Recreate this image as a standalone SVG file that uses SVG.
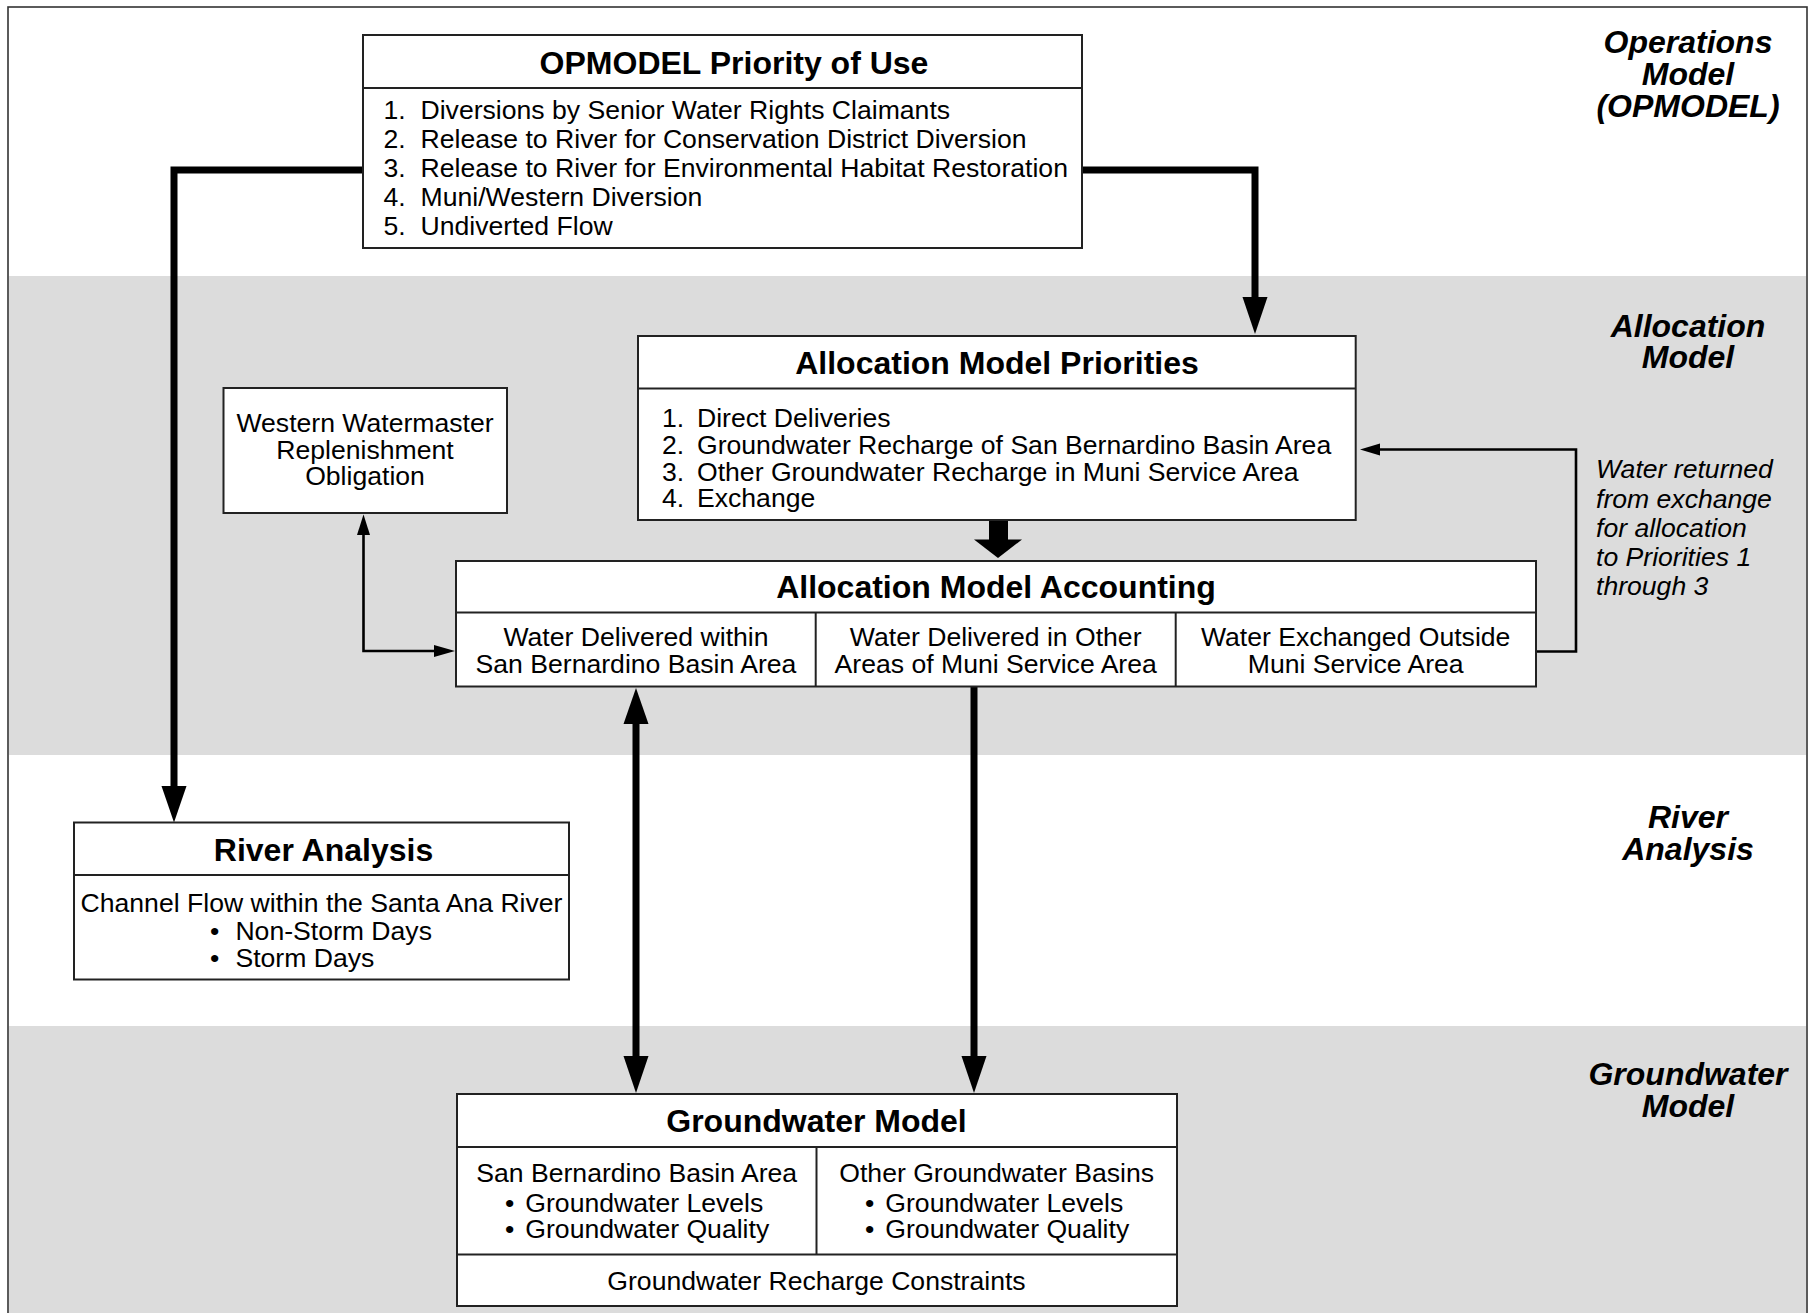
<svg xmlns="http://www.w3.org/2000/svg" width="1809" height="1313" viewBox="0 0 1809 1313">
<style>
text{font-family:"Liberation Sans",Arial,Helvetica,sans-serif;fill:#000}
.t{font-size:32px;font-weight:bold;text-anchor:middle}
.b{font-size:26.6px}
.c{font-size:26.6px;text-anchor:middle}
.lab{font-size:32px;font-weight:bold;font-style:italic;text-anchor:middle}
.it{font-size:26.6px;font-style:italic}
.box{fill:#fff;stroke:#222;stroke-width:2}
.div{stroke:#222;stroke-width:2;fill:none}
.thick{stroke:#000;stroke-width:7;fill:none}
.thin{stroke:#000;stroke-width:2.6;fill:none}
.band{fill:#dcdcdc}
</style>
<g id="background">
<rect x="0" y="0" width="1809" height="1313" fill="#fff"/>
<rect class="band" x="9" y="276" width="1797" height="479"/>
<rect class="band" x="9" y="1026" width="1797" height="300"/>
<rect x="8" y="7" width="1799" height="1320" fill="none" stroke="#333" stroke-width="1.6"/>
</g>
<g id="lane-labels">
<text class="lab" x="1688" y="53">Operations</text>
<text class="lab" x="1688" y="85">Model</text>
<text class="lab" x="1688" y="117">(OPMODEL)</text>
<text class="lab" x="1688" y="336.5">Allocation</text>
<text class="lab" x="1688" y="368">Model</text>
<text class="lab" x="1688" y="828">River</text>
<text class="lab" x="1688" y="860">Analysis</text>
<text class="lab" x="1688" y="1085">Groundwater</text>
<text class="lab" x="1688" y="1117">Model</text>
</g>
<g id="connectors">
<path class="thick" d="M363 170 H174 V788"/>
<polygon points="161.5,786 186.5,786 174,822.5"/>
<path class="thick" d="M1082 170 H1255 V299"/>
<polygon points="1242.5,297 1267.5,297 1255,334"/>
<rect x="989" y="521" width="19" height="19" fill="#000"/>
<polygon points="974,539.5 1022,539.5 998,558"/>
<path class="thick" d="M636 722 V1058"/>
<polygon points="623.5,724 648.5,724 636,688"/>
<polygon points="623.5,1056 648.5,1056 636,1093"/>
<path class="thick" d="M974 687 V1058"/>
<polygon points="961.5,1056 986.5,1056 974,1093"/>
<path class="thin" d="M363.5 533 V651 H436"/>
<polygon points="357,535 370,535 363.5,514.5"/>
<polygon points="434,645 434,657 455,651"/>
<path class="thin" d="M1536 651.5 H1576 V449.5 H1378"/>
<polygon points="1380,443.5 1380,455.5 1360,449.5"/>
<text class="it" x="1596" y="478">Water returned</text>
<text class="it" x="1596" y="507.5">from exchange</text>
<text class="it" x="1596" y="536.5">for allocation</text>
<text class="it" x="1596" y="566">to Priorities 1</text>
<text class="it" x="1596" y="595">through 3</text>
</g>
<g id="opmodel">
<rect class="box" x="363" y="35" width="719" height="213"/>
<line class="div" x1="363" y1="88" x2="1082" y2="88"/>
<text class="t" x="734" y="74">OPMODEL Priority of Use</text>
<text class="b" x="383.5" y="118.5">1.</text><text class="b" x="420.5" y="118.5">Diversions by Senior Water Rights Claimants</text>
<text class="b" x="383.5" y="147.7">2.</text><text class="b" x="420.5" y="147.7">Release to River for Conservation District Diversion</text>
<text class="b" x="383.5" y="176.9">3.</text><text class="b" x="420.5" y="176.9">Release to River for Environmental Habitat Restoration</text>
<text class="b" x="383.5" y="206.1">4.</text><text class="b" x="420.5" y="206.1">Muni/Western Diversion</text>
<text class="b" x="383.5" y="235.3">5.</text><text class="b" x="420.5" y="235.3">Undiverted Flow</text>
</g>
<g id="allocation-priorities">
<rect class="box" x="638" y="336" width="717.7" height="184"/>
<line class="div" x1="638" y1="388.5" x2="1355.7" y2="388.5"/>
<text class="t" x="997" y="374">Allocation Model Priorities</text>
<text class="b" x="662" y="426.5">1.</text><text class="b" x="697" y="426.5">Direct Deliveries</text>
<text class="b" x="662" y="453.5">2.</text><text class="b" x="697" y="453.5">Groundwater Recharge of San Bernardino Basin Area</text>
<text class="b" x="662" y="480.5">3.</text><text class="b" x="697" y="480.5">Other Groundwater Recharge in Muni Service Area</text>
<text class="b" x="662" y="507">4.</text><text class="b" x="697" y="507">Exchange</text>
</g>
<g id="western-watermaster">
<rect class="box" x="223.5" y="388" width="283.5" height="125"/>
<text class="c" x="365" y="432">Western Watermaster</text>
<text class="c" x="365" y="458.5">Replenishment</text>
<text class="c" x="365" y="485">Obligation</text>
</g>
<g id="allocation-accounting">
<rect class="box" x="456" y="561" width="1080" height="125.5"/>
<line class="div" x1="456" y1="612.5" x2="1536" y2="612.5"/>
<line class="div" x1="815.7" y1="612.5" x2="815.7" y2="686.5"/>
<line class="div" x1="1175.7" y1="612.5" x2="1175.7" y2="686.5"/>
<text class="t" x="996" y="597.5">Allocation Model Accounting</text>
<text class="c" x="636" y="646.3">Water Delivered within</text>
<text class="c" x="636" y="673">San Bernardino Basin Area</text>
<text class="c" x="995.7" y="646.3">Water Delivered in Other</text>
<text class="c" x="995.7" y="673">Areas of Muni Service Area</text>
<text class="c" x="1355.7" y="646.3">Water Exchanged Outside</text>
<text class="c" x="1355.7" y="673">Muni Service Area</text>
</g>
<g id="river-analysis">
<rect class="box" x="74" y="822.5" width="495" height="157"/>
<line class="div" x1="74" y1="875" x2="569" y2="875"/>
<text class="t" x="323.5" y="860.5">River Analysis</text>
<text class="c" x="321.5" y="911.5">Channel Flow within the Santa Ana River</text>
<text class="b" x="210" y="939.5">•</text><text class="b" x="235.4" y="939.5">Non-Storm Days</text>
<text class="b" x="210" y="966.5">•</text><text class="b" x="235.4" y="966.5">Storm Days</text>
</g>
<g id="groundwater-model">
<rect class="box" x="457" y="1094" width="720" height="212"/>
<line class="div" x1="457" y1="1147" x2="1177" y2="1147"/>
<line class="div" x1="457" y1="1254.5" x2="1177" y2="1254.5"/>
<line class="div" x1="816.5" y1="1147" x2="816.5" y2="1254.5"/>
<text class="t" x="816.5" y="1132">Groundwater Model</text>
<text class="c" x="636.7" y="1181.5">San Bernardino Basin Area</text>
<text class="b" x="505" y="1211.5">•</text><text class="b" x="525.3" y="1211.5">Groundwater Levels</text>
<text class="b" x="505" y="1238">•</text><text class="b" x="525.3" y="1238">Groundwater Quality</text>
<text class="c" x="996.7" y="1181.5">Other Groundwater Basins</text>
<text class="b" x="865" y="1211.5">•</text><text class="b" x="885.3" y="1211.5">Groundwater Levels</text>
<text class="b" x="865" y="1238">•</text><text class="b" x="885.3" y="1238">Groundwater Quality</text>
<text class="c" x="816.5" y="1290">Groundwater Recharge Constraints</text>
</g>
</svg>
